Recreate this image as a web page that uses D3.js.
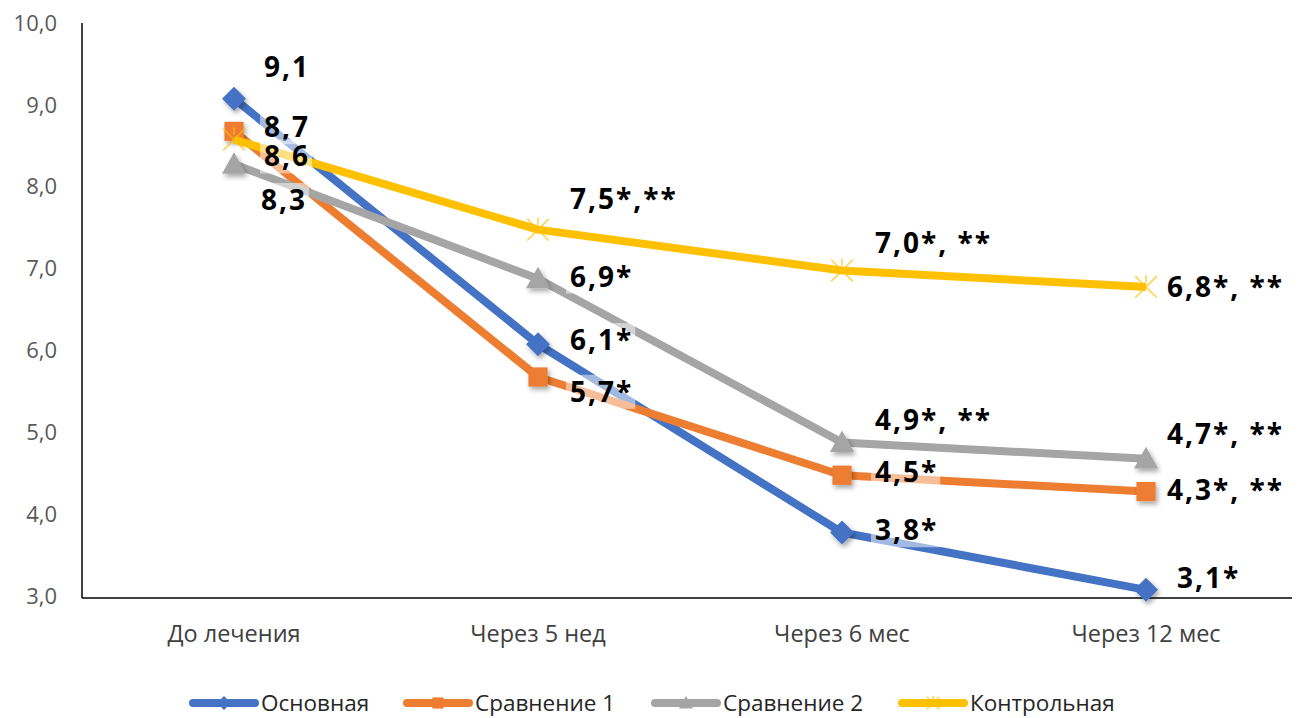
<!DOCTYPE html>
<html>
<head>
<meta charset="utf-8">
<script src="https://cdn.jsdelivr.net/npm/d3@7"></script>
<style>
  body { margin: 0; background: #fff; }
  svg { display: block; }
</style>
</head>
<body>
<script>
var categories = ["До лечения", "Через 5 нед", "Через 6 мес", "Через 12 мес"];
var seriesNames = ["Основная", "Сравнение 1", "Сравнение 2", "Контрольная"];
var osnovnaya = [9.1, 6.1, 3.8, 3.1];
var sravnenie1 = [8.7, 5.7, 4.5, 4.3];
var sravnenie2 = [8.3, 6.9, 4.9, 4.7];
var kontrol = [8.6, 7.5, 7.0, 6.8];
var marksOsn = ["", "*", "*", "*"];
var marksSr1 = ["", "*", "*", "*, **"];
var marksSr2 = ["", "*", "*, **", "*, **"];
var marksKon = ["", "*,**", "*, **", "*, **"];
var yTicks = [3, 4, 5, 6, 7, 8, 9, 10];

var colors = ["#4472C4", "#ED7D31", "#A5A5A5", "#FFC000"];
var shapes = ["diamond", "square", "triangle", "star"];
// label offsets from the point (layout only)
var labelDy = [[-31, -4, -2, -12], [-4, 15, -3, -1], [36, -2, -22, -25], [17, -30, -27, 0]];
var labelDx = [[30, 32, 33, 31], [30, 32, 33, 21], [27, 32, 33, 21], [30, 32, 33, 21]];

var series = [osnovnaya, sravnenie1, sravnenie2, kontrol];
var marks = [marksOsn, marksSr1, marksSr2, marksKon];

var W = 1304, H = 718;
var svg = d3.select("body").append("svg").attr("width", W).attr("height", H);

var defs = svg.append("defs");
var f = defs.append("filter").attr("id", "sh").attr("x", "-50%").attr("y", "-50%").attr("width", "200%").attr("height", "200%");
f.append("feDropShadow").attr("dx", 2).attr("dy", 3).attr("stdDeviation", 2.5)
  .attr("flood-color", "#000").attr("flood-opacity", 0.35);

var x = d3.scaleBand().domain(categories).range([82, 1298]);
var y = d3.scaleLinear().domain([3, 10]).range([598, 25]);
var cx = function(i){ return x(categories[i]) + x.bandwidth() / 2; };

// axes
svg.append("line").attr("x1", 82).attr("x2", 82).attr("y1", 23).attr("y2", 598)
  .attr("stroke", "#000").attr("stroke-width", 1.5);
svg.append("line").attr("x1", 82).attr("x2", 1292).attr("y1", 598).attr("y2", 598)
  .attr("stroke", "#000").attr("stroke-width", 1.5);

svg.selectAll("text.ytick")
  .data(yTicks)
  .enter().append("text")
    .attr("class", "ytick")
    .attr("x", 57)
    .attr("y", function(d){ return y(d) - 2; })
    .attr("dy", "0.35em")
    .attr("text-anchor", "end")
    .attr("font-family", "Open Sans")
    .attr("font-size", 22)
    .attr("fill", "#595959")
    .text(function(d){ return d.toFixed(1).replace(".", ","); });

svg.selectAll("text.xcat")
  .data(categories)
  .enter().append("text")
    .attr("class", "xcat")
    .attr("x", function(d){ return x(d) + x.bandwidth() / 2; })
    .attr("y", 642)
    .attr("text-anchor", "middle")
    .attr("font-family", "Open Sans")
    .attr("font-size", 23.5)
    .attr("fill", "#404040")
    .text(function(d){ return d; });

function marker(g, shape, color, s) {
  if (shape == "diamond") {
    g.append("path").attr("d", "M0," + (-s) + "L" + s + ",0L0," + s + "L" + (-s) + ",0Z").attr("fill", color);
  } else if (shape == "square") {
    g.append("rect").attr("x", -s * 0.8).attr("y", -s * 0.8).attr("width", s * 1.6).attr("height", s * 1.6).attr("fill", color);
  } else if (shape == "triangle") {
    g.append("path").attr("d", "M0," + (-s) + "L" + s + "," + (s * 0.8) + "L" + (-s) + "," + (s * 0.8) + "Z").attr("fill", color);
  } else {
    var a = s * 0.9;
    g.append("path").attr("d", "M" + (-a) + "," + (-a) + "L" + a + "," + a + "M" + (-a) + "," + a + "L" + a + "," + (-a) + "M0," + (-s) + "L0," + (-s * 0.4))
      .attr("stroke", color).attr("stroke-width", 1.6).attr("fill", "none").attr("opacity", 0.7);
  }
}

var line = d3.line().x(function(d, i){ return cx(i); }).y(function(d){ return y(d); });

series.forEach(function(vals, s) {
  svg.append("path")
    .datum(vals)
    .attr("d", line)
    .attr("fill", "none")
    .attr("stroke", colors[s])
    .attr("stroke-width", 8)
    .attr("stroke-linejoin", "round");
  svg.selectAll("g.m" + s)
    .data(vals)
    .enter().append("g")
      .attr("class", "m" + s)
      .attr("filter", shapes[s] == "star" ? null : "url(#sh)")
      .attr("transform", function(d, i){ return "translate(" + cx(i) + "," + y(d) + ")"; })
      .each(function(){ marker(d3.select(this), shapes[s], colors[s], 12); });
});

// data labels with semi-transparent backgrounds
series.forEach(function(vals, s) {
  vals.forEach(function(v, i) {
    var g = svg.append("g");
    var t = g.append("text")
      .attr("x", cx(i) + labelDx[s][i])
      .attr("y", y(v) + labelDy[s][i])
      .attr("dy", "0.35em")
      .attr("font-family", "Open Sans")
      .attr("font-weight", 700)
      .attr("font-size", 28)
      .attr("letter-spacing", 2)
      .attr("fill", "#000")
      .text(v.toFixed(1).replace(".", ",") + marks[s][i]);
    var b = t.node().getBBox();
    g.insert("rect", "text")
      .attr("x", b.x - 4).attr("y", b.y + 3)
      .attr("width", b.width + 6).attr("height", b.height - 4)
      .attr("fill", "#fff").attr("opacity", 0.5);
  });
});

// legend
var legX = [193, 407, 655, 902];
var leg = svg.selectAll("g.leg")
  .data(seriesNames)
  .enter().append("g")
    .attr("class", "leg")
    .attr("transform", function(d, i){ return "translate(" + legX[i] + ",703)"; });
leg.append("line").attr("x1", 0).attr("x2", 62).attr("y1", 0).attr("y2", 0)
  .attr("stroke", function(d, i){ return colors[i]; })
  .attr("stroke-width", 8).attr("stroke-linecap", "round");
leg.each(function(d, i){
  var g = d3.select(this).append("g").attr("transform", "translate(31,0)");
  marker(g, shapes[i], colors[i], 7);
});
leg.append("text")
  .attr("x", 68).attr("y", 0).attr("dy", "0.35em")
  .attr("font-family", "Open Sans")
  .attr("font-size", 22.5)
  .attr("fill", "#262626")
  .text(function(d){ return d; });
</script>
</body>
</html>
